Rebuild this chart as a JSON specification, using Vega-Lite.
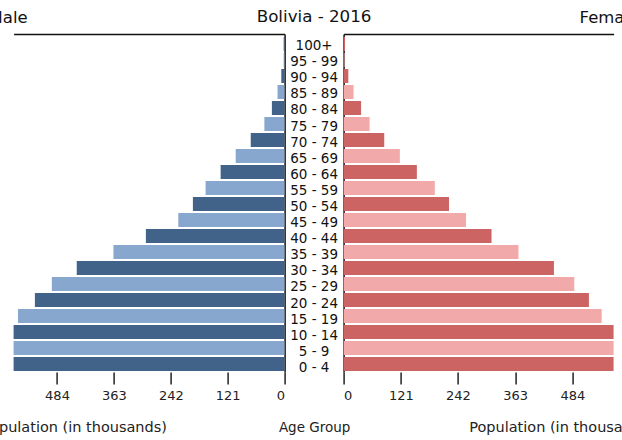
{
  "$schema": "https://vega.github.io/schema/vega-lite/v6.json",
  "padding": {"left": -19.4, "right": -23.5, "top": 9, "bottom": 4.5},
  "config": {
    "font": "DejaVu Sans",
    "view": {"stroke": null},
    "title": {"font": "DejaVu Sans", "fontWeight": "normal", "color": "#111", "baseline": "alphabetic", "offset": 8, "frame": "group"},
    "axis": {"labelFont": "DejaVu Sans", "titleFont": "DejaVu Sans", "labelFontSize": 13, "titleFontSize": 13.5, "titleFontWeight": "normal", "labelColor": "#222", "titleColor": "#222", "tickColor": "#222", "domainColor": "#111", "grid": false}
  },
  "data": {"values": [
    {"age": "0 - 4", "male": 600, "female": 585},
    {"age": "5 - 9", "male": 595, "female": 580},
    {"age": "10 - 14", "male": 590, "female": 576},
    {"age": "15 - 19", "male": 567, "female": 546},
    {"age": "20 - 24", "male": 531, "female": 519},
    {"age": "25 - 29", "male": 495, "female": 488},
    {"age": "30 - 34", "male": 442, "female": 445},
    {"age": "35 - 39", "male": 364, "female": 370},
    {"age": "40 - 44", "male": 295, "female": 313},
    {"age": "45 - 49", "male": 226, "female": 259},
    {"age": "50 - 54", "male": 195, "female": 223},
    {"age": "55 - 59", "male": 168, "female": 193},
    {"age": "60 - 64", "male": 136, "female": 155},
    {"age": "65 - 69", "male": 104, "female": 119},
    {"age": "70 - 74", "male": 72, "female": 86},
    {"age": "75 - 79", "male": 43, "female": 55},
    {"age": "80 - 84", "male": 27, "female": 37},
    {"age": "85 - 89", "male": 15, "female": 21},
    {"age": "90 - 94", "male": 7, "female": 10},
    {"age": "95 - 99", "male": 2, "female": 2},
    {"age": "100+", "male": 2, "female": 3}
  ]},
  "bounds": "flush",
  "spacing": 0,
  "resolve": {"scale": {"color": "independent"}},
  "hconcat": [
    {
      "width": 271,
      "height": 338,
      "title": {"text": "Male", "anchor": "start", "dx": -25, "fontSize": 16.5},
      "layer": [
        {
          "mark": {"type": "bar", "clip": true},
          "encoding": {
            "y": {"field": "age", "type": "nominal",
              "scale": {"domain": ["100+", "95 - 99", "90 - 94", "85 - 89", "80 - 84", "75 - 79", "70 - 74", "65 - 69", "60 - 64", "55 - 59", "50 - 54", "45 - 49", "40 - 44", "35 - 39", "30 - 34", "25 - 29", "20 - 24", "15 - 19", "10 - 14", "5 - 9", "0 - 4"], "paddingInner": 0.125, "paddingOuter": 0.125, "align": 0.75},
              "axis": {"orient": "right", "domain": true, "domainWidth": 1.5, "ticks": false, "labels": false, "title": null}},
            "x": {"field": "male", "type": "quantitative",
              "scale": {"domain": [0, 576.3], "reverse": true, "nice": false},
              "axis": {"orient": "bottom", "values": [0, 121, 242, 363, 484], "domain": false, "tickSize": 12, "tickWidth": 1.5, "labelPadding": 5.5, "title": "Population (in thousands)", "titleFontSize": 14.5, "titleX": 60.3, "titleY": 60, "titleBaseline": "alphabetic"}},
            "color": {"field": "age", "type": "nominal", "legend": null,
              "scale": {"domain": ["0 - 4", "5 - 9", "10 - 14", "15 - 19", "20 - 24", "25 - 29", "30 - 34", "35 - 39", "40 - 44", "45 - 49", "50 - 54", "55 - 59", "60 - 64", "65 - 69", "70 - 74", "75 - 79", "80 - 84", "85 - 89", "90 - 94", "95 - 99", "100+"],
                "range": ["#41638a", "#88a7ce", "#41638a", "#88a7ce", "#41638a", "#88a7ce", "#41638a", "#88a7ce", "#41638a", "#88a7ce", "#41638a", "#88a7ce", "#41638a", "#88a7ce", "#41638a", "#88a7ce", "#41638a", "#88a7ce", "#41638a", "#88a7ce", "#41638a"]}}
          }
        },
        {
          "mark": {"type": "bar", "opacity": 0},
          "encoding": {
            "y": {"field": "age", "type": "nominal"},
            "x": {"field": "male", "type": "quantitative",
              "axis": {"orient": "top", "domain": true, "domainWidth": 1.5, "ticks": false, "labels": false, "title": null}}
          }
        }
      ],
      "resolve": {"axis": {"x": "independent"}}
    },
    {
      "width": 59,
      "height": 338,
      "title": {"text": "Bolivia - 2016", "anchor": "middle", "fontSize": 16.7},
      "mark": {"type": "text", "fontSize": 13.5, "color": "#111", "baseline": "middle", "align": "center"},
      "encoding": {
        "y": {"field": "age", "type": "nominal",
          "scale": {"domain": ["100+", "95 - 99", "90 - 94", "85 - 89", "80 - 84", "75 - 79", "70 - 74", "65 - 69", "60 - 64", "55 - 59", "50 - 54", "45 - 49", "40 - 44", "35 - 39", "30 - 34", "25 - 29", "20 - 24", "15 - 19", "10 - 14", "5 - 9", "0 - 4"], "paddingInner": 0.125, "paddingOuter": 0.125, "align": 0.75},
          "axis": null},
        "x": {"datum": 0.5, "type": "quantitative", "scale": {"domain": [0, 1]},
          "axis": {"domain": false, "ticks": false, "labels": false, "title": "Age Group", "titleY": 60, "titleBaseline": "alphabetic"}},
        "text": {"field": "age", "type": "nominal"}
      }
    },
    {
      "width": 270,
      "height": 338,
      "title": {"text": "Female", "anchor": "end", "dx": 25.6, "fontSize": 16.5},
      "layer": [
        {
          "mark": {"type": "bar", "clip": true},
          "encoding": {
            "y": {"field": "age", "type": "nominal",
              "scale": {"domain": ["100+", "95 - 99", "90 - 94", "85 - 89", "80 - 84", "75 - 79", "70 - 74", "65 - 69", "60 - 64", "55 - 59", "50 - 54", "45 - 49", "40 - 44", "35 - 39", "30 - 34", "25 - 29", "20 - 24", "15 - 19", "10 - 14", "5 - 9", "0 - 4"], "paddingInner": 0.125, "paddingOuter": 0.125, "align": 0.75},
              "axis": {"orient": "left", "domain": true, "domainWidth": 1.5, "ticks": false, "labels": false, "title": null}},
            "x": {"field": "female", "type": "quantitative",
              "scale": {"domain": [0, 571.2], "nice": false},
              "axis": {"orient": "bottom", "values": [0, 121, 242, 363, 484], "domain": false, "tickSize": 12, "tickWidth": 1.5, "labelPadding": 5.5, "title": "Population (in thousands)", "titleFontSize": 14.5, "titleX": 217.7, "titleY": 60, "titleBaseline": "alphabetic"}},
            "color": {"field": "age", "type": "nominal", "legend": null,
              "scale": {"domain": ["0 - 4", "5 - 9", "10 - 14", "15 - 19", "20 - 24", "25 - 29", "30 - 34", "35 - 39", "40 - 44", "45 - 49", "50 - 54", "55 - 59", "60 - 64", "65 - 69", "70 - 74", "75 - 79", "80 - 84", "85 - 89", "90 - 94", "95 - 99", "100+"],
                "range": ["#cc6464", "#f2a9a9", "#cc6464", "#f2a9a9", "#cc6464", "#f2a9a9", "#cc6464", "#f2a9a9", "#cc6464", "#f2a9a9", "#cc6464", "#f2a9a9", "#cc6464", "#f2a9a9", "#cc6464", "#f2a9a9", "#cc6464", "#f2a9a9", "#cc6464", "#f2a9a9", "#cc6464"]}}
          }
        },
        {
          "mark": {"type": "bar", "opacity": 0},
          "encoding": {
            "y": {"field": "age", "type": "nominal"},
            "x": {"field": "female", "type": "quantitative",
              "axis": {"orient": "top", "domain": true, "domainWidth": 1.5, "ticks": false, "labels": false, "title": null}}
          }
        }
      ],
      "resolve": {"axis": {"x": "independent"}}
    }
  ]
}
